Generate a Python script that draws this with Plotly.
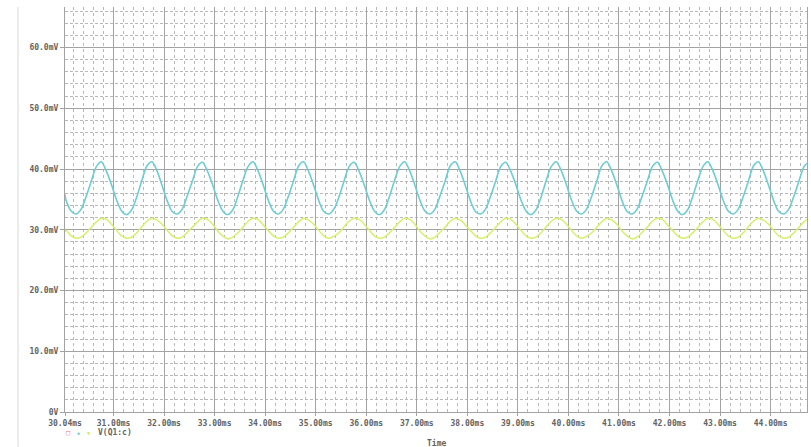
import numpy as np
import plotly.graph_objects as go

# ---- data ----
# sampling grid: 30.04 ms, then every 0.1 ms from 30.06 to 44.66 ms, then 44.72 ms
time_ms = [30.04] + [round(30.06 + 0.1 * k, 2) for k in range(147)] + [44.72]

# cyan trace (mV)
cyan_mv = [35.8,
    34.9, 33.1,
    32.6, 33.4, 35.5, 38.0, 40.4, 41.2, 39.6, 37.4, 34.9, 33.1,
    32.5, 33.3, 35.4, 38.1, 40.5, 41.2, 39.7, 37.3, 34.8, 33.0,
    32.6, 33.4, 35.6, 38.0, 40.4, 41.1, 39.6, 37.4, 34.9, 33.1,
    32.5, 33.3, 35.5, 38.1, 40.4, 41.2, 39.7, 37.4, 34.9, 33.1,
    32.6, 33.4, 35.5, 38.0, 40.5, 41.2, 39.6, 37.3, 34.8, 33.0,
    32.6, 33.4, 35.4, 38.0, 40.4, 41.1, 39.6, 37.4, 34.9, 33.1,
    32.5, 33.3, 35.5, 38.1, 40.4, 41.2, 39.7, 37.4, 34.9, 33.1,
    32.6, 33.4, 35.6, 38.0, 40.5, 41.2, 39.6, 37.3, 34.8, 33.0,
    32.6, 33.4, 35.5, 38.0, 40.4, 41.1, 39.6, 37.4, 34.9, 33.1,
    32.5, 33.3, 35.4, 38.1, 40.4, 41.2, 39.7, 37.4, 34.9, 33.1,
    32.6, 33.4, 35.5, 38.0, 40.5, 41.2, 39.6, 37.3, 34.8, 33.0,
    32.6, 33.4, 35.6, 38.0, 40.4, 41.1, 39.6, 37.4, 34.9, 33.1,
    32.5, 33.3, 35.5, 38.1, 40.4, 41.2, 39.7, 37.4, 34.9, 33.1,
    32.6, 33.4, 35.5, 38.0, 40.5, 41.2, 39.6, 37.3, 34.8, 33.0,
    32.6, 33.4, 35.5, 38.0, 40.4,
    40.9]

# yellow-green trace (mV)
yellow_mv = [29.6,
    29.9, 29.0,
    28.6, 28.8, 29.5, 30.4, 31.3, 31.9, 31.7, 30.9, 29.9, 29.0,
    28.6, 28.8, 29.5, 30.5, 31.4, 31.9, 31.6, 30.9, 29.9, 29.0,
    28.6, 28.8, 29.6, 30.4, 31.3, 31.9, 31.7, 30.9, 29.8, 29.0,
    28.5, 28.8, 29.5, 30.4, 31.4, 31.9, 31.7, 30.8, 29.9, 29.0,
    28.6, 28.8, 29.5, 30.4, 31.3, 31.9, 31.6, 30.9, 29.9, 29.0,
    28.6, 28.9, 29.5, 30.5, 31.4, 31.9, 31.7, 30.9, 29.9, 29.0,
    28.6, 28.8, 29.5, 30.4, 31.3, 31.9, 31.7, 30.9, 29.8, 29.0,
    28.5, 28.8, 29.6, 30.4, 31.4, 31.9, 31.6, 30.8, 29.9, 29.0,
    28.6, 28.8, 29.5, 30.4, 31.3, 31.9, 31.7, 30.9, 29.9, 29.0,
    28.6, 28.8, 29.5, 30.5, 31.4, 31.9, 31.7, 30.9, 29.9, 29.0,
    28.6, 28.9, 29.5, 30.4, 31.3, 31.9, 31.6, 30.9, 29.8, 29.0,
    28.5, 28.8, 29.6, 30.4, 31.4, 31.9, 31.7, 30.8, 29.9, 29.0,
    28.6, 28.8, 29.5, 30.4, 31.3, 31.9, 31.7, 30.9, 29.9, 29.0,
    28.6, 28.8, 29.5, 30.5, 31.4, 31.9, 31.6, 30.9, 29.9, 29.0,
    28.6, 28.8, 29.5, 30.4, 31.3,
    31.7]

x_tickvals = [30.04, 31, 32, 33, 34, 35, 36, 37, 38, 39, 40, 41, 42, 43, 44]
x_ticktext = ["30.04ms", "31.00ms", "32.00ms", "33.00ms", "34.00ms", "35.00ms",
              "36.00ms", "37.00ms", "38.00ms", "39.00ms", "40.00ms", "41.00ms",
              "42.00ms", "43.00ms", "44.00ms"]
y_tickvals = [0, 10, 20, 30, 40, 50, 60]
y_ticktext = ["0V", "10.0mV", "20.0mV", "30.0mV", "40.0mV", "50.0mV", "60.0mV"]
legend_label = "V(Q1:c)"
x_title = "Time"

# ---- styling ----
FONT = "DejaVu Sans Mono"
TXT = "#636363"
MAJOR = "#a3a3a3"
MINOR = "#b8b8b8"
CYAN = "#6ccdd4"
YELLOW = "#d5f06a"

fig = go.Figure()
fig.add_trace(go.Scatter(x=time_ms, y=yellow_mv, mode="lines",
                         line=dict(color=YELLOW, width=1.5, shape="spline", smoothing=0.8),
                         showlegend=False, hoverinfo="skip"))
fig.add_trace(go.Scatter(x=time_ms, y=cyan_mv, mode="lines",
                         line=dict(color=CYAN, width=1.6, shape="spline", smoothing=0.8),
                         showlegend=False, hoverinfo="skip"))

tickfont = dict(family=FONT, size=8, color=TXT, weight="bold")

fig.update_layout(
    width=811, height=447,
    margin=dict(l=65, r=4, t=7, b=35),
    paper_bgcolor="white", plot_bgcolor="white",
    font=dict(family=FONT, size=8, color=TXT),
    xaxis=dict(
        range=[30.04, 44.72], tickmode="array", tickvals=x_tickvals, ticktext=x_ticktext,
        showgrid=True, gridcolor=MAJOR, gridwidth=1.2,
        showline=True, linecolor=MAJOR, linewidth=1.2,
        ticks="outside", ticklen=3, tickcolor=MAJOR,
        zeroline=False,
        tickfont=tickfont,
        minor=dict(tickmode="linear", tick0=0, dtick=0.2, showgrid=True,
                   gridcolor=MINOR, griddash="dot", gridwidth=1, ticks=""),
    ),
    yaxis=dict(
        range=[0, 66.67], tickmode="array", tickvals=y_tickvals, ticktext=y_ticktext,
        showgrid=True, gridcolor=MAJOR, gridwidth=1.2,
        showline=True, linecolor=MAJOR, linewidth=1.2, mirror=True,
        ticks="outside", ticklen=4, tickcolor=MAJOR,
        zeroline=False,
        tickfont=tickfont,
        minor=dict(tickmode="linear", tick0=0, dtick=2, showgrid=True,
                   gridcolor=MINOR, griddash="3px,2px", gridwidth=1, ticks=""),
    ),
)

# faint frame line at the left of the window
fig.add_shape(type="line", xref="paper", yref="paper",
              x0=-0.0633, x1=-0.0633, y0=-0.0864, y1=1.0,
              line=dict(color="#d9d9d9", width=1))

# legend row
ly = -0.0515
def ann(x, text, size, color, xanchor="center", y=ly, weight="normal"):
    fig.add_annotation(xref="paper", yref="paper", x=x, y=y, text=text, showarrow=False,
                       xanchor=xanchor, yanchor="middle",
                       font=dict(family=FONT, size=size, color=color, weight=weight))

ann(0.0045, "□", 7, "#e07a86")
ann(0.018, "◆", 5, CYAN)
ann(0.0315, "▼", 5, "#c8e850")
ann(0.0418, legend_label, 8, TXT, xanchor="left", weight="bold")
ann(0.5013, x_title, 8, TXT, y=-0.0765, weight="bold")

fig.write_html("out.html", config={"displayModeBar": False},
               post_script="document.body.style.margin='0px';document.body.style.overflow='hidden';")
